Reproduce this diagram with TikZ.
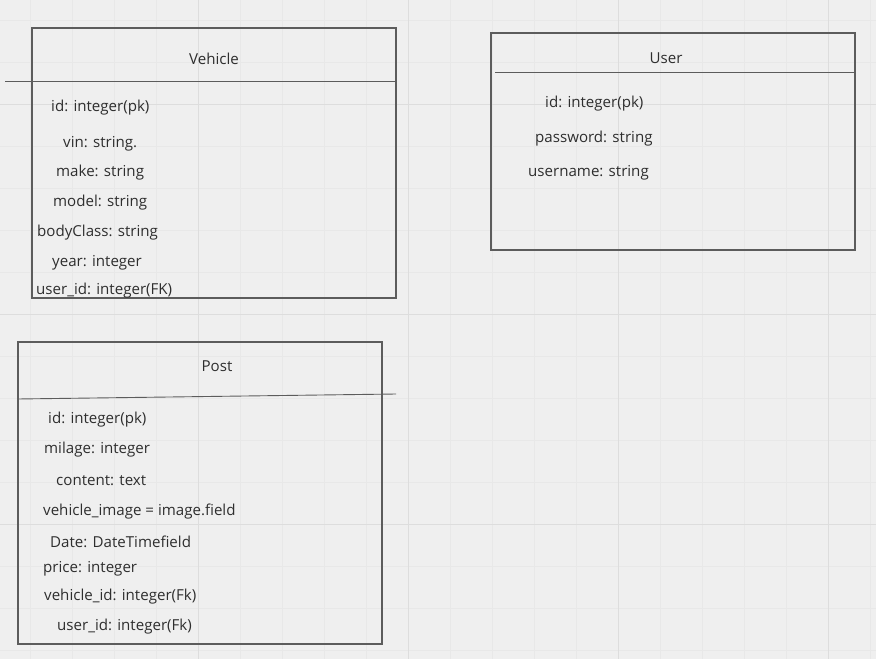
\documentclass[tikz,border=0pt]{standalone}
\usepackage{fontspec}
\setmainfont{Open Sans}
\usetikzlibrary{positioning}
\definecolor{boardbg}{HTML}{EFEFEF}
\definecolor{gridminor}{HTML}{E8E8E8}
\definecolor{gridmajor}{HTML}{DDDDDD}
\definecolor{boxline}{HTML}{5C5C5C}
\definecolor{fieldtext}{HTML}{2E2E2E}
\tikzset{
  tbl/.style={draw=boxline, line width=1.4pt, inner sep=0pt, rectangle},
  divider/.style={draw=boxline, line width=0.9pt},
  title/.style={font=\fontsize{15.1}{18}\selectfont, text=fieldtext, inner sep=0pt},
  field/.style={font=\fontsize{15.1}{18}\selectfont, text=fieldtext, inner sep=0pt, anchor=west}
}

\begin{document}
\begin{tikzpicture}[x=1pt, y=-1pt]
    % board background and grid
    \fill[boardbg] (0,0) rectangle (876,659);
    \useasboundingbox (0,0) rectangle (876,659);
    \foreach \gx in {30,72,...,870}
        \draw[gridminor, line width=0.8pt] (\gx,0) -- (\gx,659);
    \foreach \gy in {20,62,...,650}
        \draw[gridminor, line width=0.8pt] (0,\gy) -- (876,\gy);
    \foreach \gx in {198,408,618,828}
        \draw[gridmajor, line width=1pt] (\gx,0) -- (\gx,659);
    \foreach \gy in {104,314,524}
        \draw[gridmajor, line width=1pt] (0,\gy) -- (876,\gy);

    % Vehicle table
    \node[tbl, minimum width=364pt, minimum height=270pt] (vehicle) at (214,163) {};
    \node[title] (vehicle-title) at (214,58.5) {Vehicle};
    \coordinate (vehicle-cut) at (5,81);
    \draw[divider] (vehicle-cut) -- (vehicle.east |- vehicle-cut);
    \foreach \fx/\fy/\ftext [count=\i] in {
        51/108/{id: integer(pk)},
        63/144/{vin: string.},
        56/173/{make: string},
        53/203/{model: string},
        37/233/{bodyClass: string},
        52/263/{year: integer},
        36/291/{user\_id: integer(FK)}} {
        \node[field] (vehicle-f\i) at (\fx,\fy) {\ftext};
    }

    % User table
    \node[tbl, minimum width=364pt, minimum height=217pt] (user) at (673,141.5) {};
    \node[title] (user-title) at (666,58.5) {User};
    \coordinate (user-cut) at (495,72);
    \draw[divider] (user-cut) -- (user.east |- user-cut);
    \foreach \fx/\fy/\ftext [count=\i] in {
        545/104/{id: integer(pk)},
        535/139/{password: string},
        528/173/{username: string}} {
        \node[field] (user-f\i) at (\fx,\fy) {\ftext};
    }

    % Post table
    \node[tbl, minimum width=364pt, minimum height=302pt] (post) at (200,493) {};
    \node[title] (post-title) at (217,366.5) {Post};
    \coordinate (post-cut-l) at (post.west |- 0,399);
    \coordinate (post-cut-r) at (396,394);
    \draw[divider] (post-cut-l) -- (post-cut-r);
    \foreach \fx/\fy/\ftext [count=\i] in {
        48/420/{id: integer(pk)},
        44/450/{milage: integer},
        56/481/{content: text},
        43/512/{vehicle\_image = image.field},
        50/542/{Date: DateTimefield},
        43/569/{price: integer},
        44/597/{vehicle\_id: integer(Fk)},
        57/627/{user\_id: integer(Fk)}} {
        \node[field] (post-f\i) at (\fx,\fy) {\ftext};
    }
\end{tikzpicture}
\end{document}
